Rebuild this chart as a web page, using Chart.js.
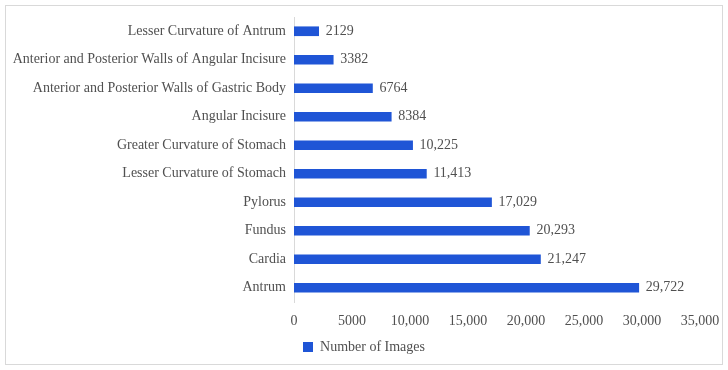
<!DOCTYPE html>
<html lang="en">
<head>
  <meta charset="UTF-8">
  <title>Number of Images per Region</title>
  <script src="https://cdn.jsdelivr.net/npm/chart.js"></script>
  <style>
    body {
      margin: 0;
      background: #fff;
    }
    #box {
      position: absolute;
      left: 5px;
      top: 5px;
      width: 716px;
      height: 358px;
      border: 1px solid #d9d9d9;
    }
  </style>
</head>
<body>
  <div id="box"><canvas id="regionChart" width="716" height="358"></canvas></div>

  <script>
    const regions = [
      'Lesser Curvature of Antrum',
      'Anterior and Posterior Walls of Angular Incisure',
      'Anterior and Posterior Walls of Gastric Body',
      'Angular Incisure',
      'Greater Curvature of Stomach',
      'Lesser Curvature of Stomach',
      'Pylorus',
      'Fundus',
      'Cardia',
      'Antrum'
    ];
    const imageCounts = [2129, 3382, 6764, 8384, 10225, 11413, 17029, 20293, 21247, 29722];
    const xTicks = [0, 5000, 10000, 15000, 20000, 25000, 30000, 35000];

    const fmt = n => n >= 10000 ? n.toLocaleString('en-US') : String(n);
    const textColor = '#505050';
    const font = { family: '"Liberation Serif", serif', size: 14 };

    // value labels at the end of each bar
    const valueLabels = {
      id: 'valueLabels',
      afterDatasetsDraw(chart) {
        const ctx = chart.ctx;
        const meta = chart.getDatasetMeta(0);
        ctx.save();
        ctx.font = font.size + 'px ' + font.family;
        ctx.fillStyle = textColor;
        ctx.textBaseline = 'middle';
        meta.data.forEach((bar, i) => {
          ctx.fillText(fmt(imageCounts[i]), bar.x + 7, bar.y);
        });
        ctx.restore();
      }
    };

    new Chart(document.getElementById('regionChart'), {
      type: 'bar',
      data: {
        labels: regions,
        datasets: [{
          label: 'Number of Images',
          data: imageCounts,
          backgroundColor: '#1f55d6',
          barThickness: 9
        }]
      },
      options: {
        indexAxis: 'y',
        responsive: false,
        animation: false,
        layout: { padding: { top: 11, right: 0, left: 0, bottom: 0 } },
        scales: {
          x: {
            min: 0,
            max: 35000,
            afterBuildTicks: s => { s.ticks = xTicks.map(v => ({ value: v })); },
            afterFit: s => { s.height = 33; s.paddingLeft = 0; s.paddingRight = 22; },
            grid: { display: false, drawTicks: false },
            border: { display: false },
            ticks: {
              padding: 11,
              color: textColor,
              font: font,
              callback: v => fmt(v)
            }
          },
          y: {
            afterFit: s => { s.width = 288; s.paddingTop = 0; s.paddingBottom = 0; },
            grid: { display: false, drawTicks: false },
            border: { display: true, color: '#d9d9d9' },
            ticks: { padding: 8, color: textColor, font: font }
          }
        },
        plugins: {
          legend: {
            position: 'bottom',
            labels: {
              color: textColor,
              font: font,
              boxWidth: 10,
              boxHeight: 10,
              padding: 5
            }
          },
          tooltip: { enabled: false }
        }
      },
      plugins: [valueLabels]
    });
  </script>
</body>
</html>
